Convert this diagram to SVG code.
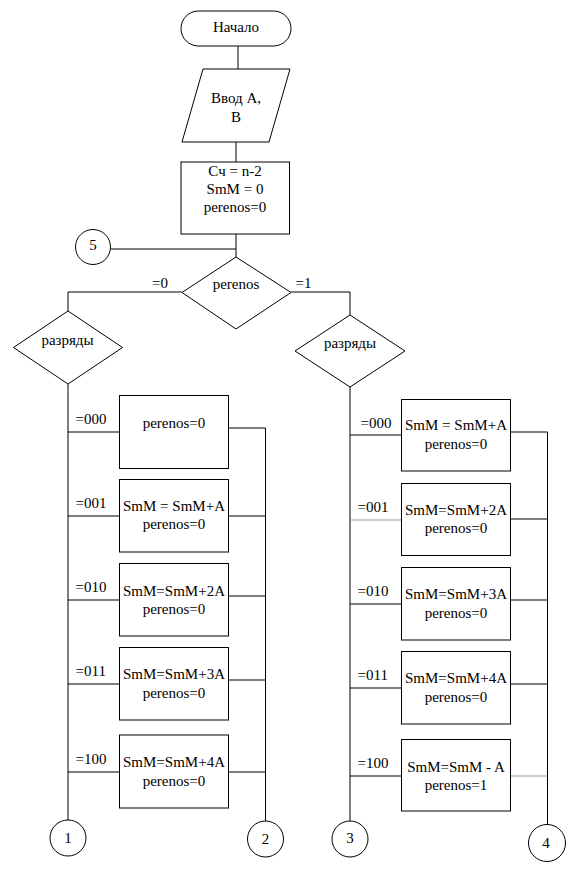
<svg xmlns="http://www.w3.org/2000/svg" width="575" height="870" viewBox="0 0 575 870">
<style>
.s{fill:#fff;stroke:#000;stroke-width:1}
.l{fill:none;stroke:#000;stroke-width:1}
.g{fill:none;stroke:#999;stroke-width:1.2}
.c{text-anchor:middle}
</style>
<rect width="575" height="870" fill="#fff"/>
<g id="connectors">
<line class="l" x1="238" y1="46" x2="238" y2="69"/>
<line class="l" x1="236" y1="142" x2="236" y2="162"/>
<line class="l" x1="236" y1="234" x2="236" y2="257"/>
<line class="l" x1="111" y1="249" x2="236" y2="249"/>
<polyline class="l" points="182,292 68,292 68,311"/>
<polyline class="l" points="291,292 350,292 350,315"/>
<line class="l" x1="68" y1="384" x2="68" y2="820"/>
<line class="l" x1="265.5" y1="428" x2="265.5" y2="821"/>
<line class="l" x1="68" y1="432" x2="119" y2="432"/>
<line class="l" x1="68" y1="516" x2="119" y2="516"/>
<line class="l" x1="68" y1="600" x2="119" y2="600"/>
<line class="l" x1="68" y1="684" x2="119" y2="684"/>
<line class="l" x1="68" y1="772" x2="119" y2="772"/>
<line class="l" x1="228" y1="428" x2="265.5" y2="428"/>
<line class="l" x1="228" y1="516" x2="265.5" y2="516"/>
<line class="l" x1="228" y1="596" x2="265.5" y2="596"/>
<line class="l" x1="228" y1="680" x2="265.5" y2="680"/>
<line class="l" x1="228" y1="772" x2="265.5" y2="772"/>
<line class="l" x1="350" y1="387" x2="350" y2="821"/>
<line class="l" x1="547.5" y1="432" x2="547.5" y2="825"/>
<line class="l" x1="350" y1="435" x2="401.5" y2="435"/>
<line class="g" x1="350" y1="520" x2="401.5" y2="520"/>
<line class="l" x1="350" y1="604" x2="401.5" y2="604"/>
<line class="l" x1="350" y1="688" x2="401.5" y2="688"/>
<line class="l" x1="350" y1="776" x2="401.5" y2="776"/>
<line class="l" x1="510" y1="432" x2="547.5" y2="432"/>
<line class="l" x1="510" y1="519" x2="547.5" y2="519"/>
<line class="l" x1="510" y1="600" x2="547.5" y2="600"/>
<line class="l" x1="510" y1="684" x2="547.5" y2="684"/>
<line class="g" x1="510" y1="776" x2="547.5" y2="776"/>
</g>
<g font-family="'Liberation Serif', 'Times New Roman', serif" font-size="15" fill="#000">
<g id="start">
<rect class="s" x="181" y="11" width="110" height="35" rx="17.5"/>
<text class="c" x="236" y="32">Начало</text>
</g>
<g id="input">
<polygon class="s" points="203,69 290,69 269,142 182,142"/>
<text class="c" x="236" y="103">Ввод А,</text>
<text class="c" x="236" y="122">В</text>
</g>
<g id="init">
<rect class="s" x="181" y="162" width="108.5" height="72"/>
<text class="c" x="235" y="176">Сч = n-2</text>
<text class="c" x="235" y="194">SmM = 0</text>
<text class="c" x="235" y="212">perenos=0</text>
</g>
<g id="conn5">
<circle class="s" cx="93" cy="247" r="17.5"/>
<text class="c" x="93" y="250">5</text>
</g>
<g id="dec-perenos">
<polygon class="s" points="236,257 291,292.5 236,329 182,292.5"/>
<text class="c" x="236" y="289">perenos</text>
<text x="168" y="288" text-anchor="end">=0</text>
<text x="295.5" y="288">=1</text>
</g>
<g id="dec-left">
<polygon class="s" points="68,311 122.5,347.5 68,384 13.5,347.5"/>
<text class="c" x="67.5" y="345">разряды</text>
</g>
<g id="dec-right">
<polygon class="s" points="350,315 405,351 350,387 295,351"/>
<text class="c" x="350" y="348">разряды</text>
</g>
<g id="L1">
<rect class="s" x="119.5" y="395.5" width="109" height="73"/>
<text x="75.5" y="424">=000</text>
<text class="c" x="174" y="428">perenos=0</text>
</g>
<g id="L2">
<rect class="s" x="119.5" y="479.5" width="109" height="72.5"/>
<text x="75.5" y="508">=001</text>
<text class="c" x="174" y="511">SmM = SmM+A</text>
<text class="c" x="174" y="529">perenos=0</text>
</g>
<g id="L3">
<rect class="s" x="119.5" y="563.5" width="109" height="72.5"/>
<text x="75.5" y="592">=010</text>
<text class="c" x="174" y="596">SmM=SmM+2A</text>
<text class="c" x="174" y="614">perenos=0</text>
</g>
<g id="L4">
<rect class="s" x="119.5" y="647.5" width="109" height="72.5"/>
<text x="75.5" y="676">=011</text>
<text class="c" x="174" y="679">SmM=SmM+3A</text>
<text class="c" x="174" y="698">perenos=0</text>
</g>
<g id="L5">
<rect class="s" x="119.5" y="735" width="109" height="73"/>
<text x="75.5" y="764">=100</text>
<text class="c" x="174" y="767">SmM=SmM+4A</text>
<text class="c" x="174" y="786">perenos=0</text>
</g>
<g id="R1">
<rect class="s" x="401.5" y="399.5" width="109" height="71.5"/>
<text x="360.5" y="428">=000</text>
<text class="c" x="456" y="430">SmM = SmM+A</text>
<text class="c" x="456" y="449">perenos=0</text>
</g>
<g id="R2">
<rect class="s" x="401.5" y="483.5" width="109" height="72"/>
<text x="357.5" y="512">=001</text>
<text class="c" x="456" y="515">SmM=SmM+2A</text>
<text class="c" x="456" y="533">perenos=0</text>
</g>
<g id="R3">
<rect class="s" x="401.5" y="567.5" width="109" height="72.5"/>
<text x="357.5" y="596">=010</text>
<text class="c" x="456" y="599">SmM=SmM+3A</text>
<text class="c" x="456" y="618">perenos=0</text>
</g>
<g id="R4">
<rect class="s" x="401.5" y="651.5" width="109" height="72.5"/>
<text x="357.5" y="680">=011</text>
<text class="c" x="456" y="683">SmM=SmM+4A</text>
<text class="c" x="456" y="702">perenos=0</text>
</g>
<g id="R5">
<rect class="s" x="401.5" y="739.5" width="109" height="71.5"/>
<text x="357.5" y="768">=100</text>
<text class="c" x="456" y="772">SmM=SmM - A</text>
<text class="c" x="456" y="790">perenos=1</text>
</g>
<g id="conn1">
<circle class="s" cx="68" cy="838" r="18"/>
<text class="c" x="68" y="843">1</text>
</g>
<g id="conn2">
<circle class="s" cx="265.5" cy="839" r="18"/>
<text class="c" x="265.5" y="844">2</text>
</g>
<g id="conn3">
<circle class="s" cx="350" cy="839" r="18"/>
<text class="c" x="350" y="843">3</text>
</g>
<g id="conn4">
<circle class="s" cx="547" cy="843" r="18.5"/>
<text class="c" x="546" y="848">4</text>
</g>
</g>
</svg>
